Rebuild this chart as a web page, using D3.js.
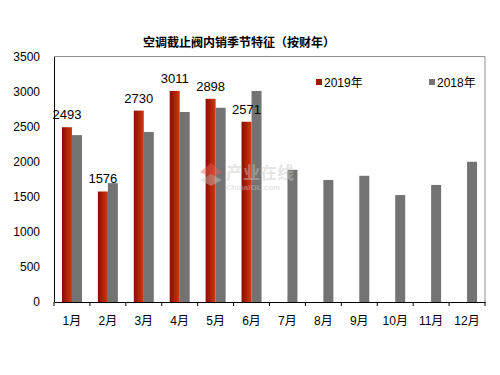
<!DOCTYPE html>
<html><head><meta charset="utf-8">
<script src="https://cdn.jsdelivr.net/npm/d3@7"></script>
<style>body{margin:0;background:#fff;} svg{display:block;}</style>
</head><body>
<svg id="c" width="500" height="375"></svg>
<script>
const months = ["1月","2月","3月","4月","5月","6月","7月","8月","9月","10月","11月","12月"];
const values2019 = [2493,1576,2730,3011,2898,2571];
const values2018 = [2380,1695,2425,2710,2770,3010,1885,1740,1800,1525,1670,2000];
const yTicks = [0,500,1000,1500,2000,2500,3000,3500];
const seriesNames = ["2019年","2018年"];
const title = "空调截止阀内销季节特征（按财年）";

const svg = d3.select("#c");
const L = 54, R = 485, T = 56.6, B = 302;
const x = d3.scaleBand().domain(months).range([L, R]).padding(0);
const y = d3.scaleLinear().domain([0, 3500]).range([B, T]);
const bw = 10;
const font = "Arial, 'Liberation Sans', 'Noto Sans CJK SC', sans-serif";

const defs = svg.append("defs");
const g = defs.append("linearGradient").attr("id","red").attr("x1","0").attr("x2","1").attr("y1","0").attr("y2","0");
g.append("stop").attr("offset","0").attr("stop-color","#8a0c00");
g.append("stop").attr("offset","1").attr("stop-color","#d2390f");

// title
svg.append("text").attr("x", 239).attr("y", 47).attr("text-anchor","middle")
  .attr("font-family","'Noto Sans CJK SC', sans-serif").attr("font-weight","bold")
  .attr("font-size", 12).attr("fill","#000").text(title);

// frame top/right
svg.append("line").attr("x1",L).attr("x2",R).attr("y1",T).attr("y2",T).attr("stroke","#8c8c8c").attr("stroke-width",1);
svg.append("line").attr("x1",R).attr("x2",R).attr("y1",T).attr("y2",B).attr("stroke","#8c8c8c").attr("stroke-width",1);

// bars 2018
svg.append("g").selectAll("rect").data(values2018).join("rect")
  .attr("x",(d,i)=>x(months[i]) + x.bandwidth()/2)
  .attr("y",d=>y(d)).attr("width",bw).attr("height",d=>B - y(d))
  .attr("fill","#737373");
// bars 2019
svg.append("g").selectAll("rect").data(values2019).join("rect")
  .attr("x",(d,i)=>x(months[i]) + x.bandwidth()/2 - bw)
  .attr("y",d=>y(d)).attr("width",bw).attr("height",d=>B - y(d))
  .attr("fill","url(#red)");
// labels
svg.append("g").selectAll("text").data(values2019).join("text")
  .attr("x",(d,i)=>x(months[i]) + x.bandwidth()/2 - bw/2)
  .attr("y",d=>y(d) - 8).attr("text-anchor","middle")
  .attr("font-family",font).attr("font-size",13).attr("fill","#000").text(d=>d);

// watermark (on top, faint)
const wm = svg.append("g").attr("opacity",0.45);
wm.append("path").attr("d","M200,172 L211,163 L222,172 L211,178 Z").attr("fill","#f06060");
wm.append("path").attr("d","M200,180 L211,174 L222,180 L211,186 Z").attr("fill","#c8c8c8");
wm.append("text").attr("x",226).attr("y",179).attr("font-family","'Noto Sans CJK SC', sans-serif")
  .attr("font-size",17).attr("font-weight","bold").attr("fill","#c8c8c8").text("产业在线");
wm.append("text").attr("x",226).attr("y",190).attr("font-family",font)
  .attr("font-size",8).attr("font-weight","bold").attr("fill","#c8c8c8").text("ChinaIOL.com");

// y axis
const ya = svg.append("g").attr("transform",`translate(${L},0)`)
  .call(d3.axisLeft(y).tickValues(yTicks).tickSize(0).tickPadding(14).tickFormat(d3.format("d")));
ya.select(".domain").attr("stroke","#000");
ya.selectAll("text").attr("font-family",font).attr("font-size",12).attr("fill","#000");

// x axis
const xa = svg.append("g").attr("transform",`translate(0,${B})`)
  .call(d3.axisBottom(x).tickSize(0).tickPadding(14));
xa.select(".domain").attr("stroke","#000");
xa.selectAll("text").attr("font-family",font).attr("font-size",12).attr("fill","#000");
xa.selectAll(".sep").data(d3.range(months.length+1)).join("line").attr("class","sep")
  .attr("x1",i=>L + i*x.step()).attr("x2",i=>L + i*x.step()).attr("y1",0).attr("y2",4).attr("stroke","#000");

// legend
const leg = [{n:seriesNames[0], c:"#a01a05", x:316},{n:seriesNames[1], c:"#737373", x:429}];
const lg = svg.append("g").selectAll("g").data(leg).join("g").attr("transform",d=>`translate(${d.x},0)`);
lg.append("rect").attr("x",0).attr("y",79).attr("width",6).attr("height",6).attr("fill",d=>d.c);
lg.append("text").attr("x",8).attr("y",87).attr("font-family",font).attr("font-size",12).attr("fill","#000").text(d=>d.n);
</script>
</body></html>
